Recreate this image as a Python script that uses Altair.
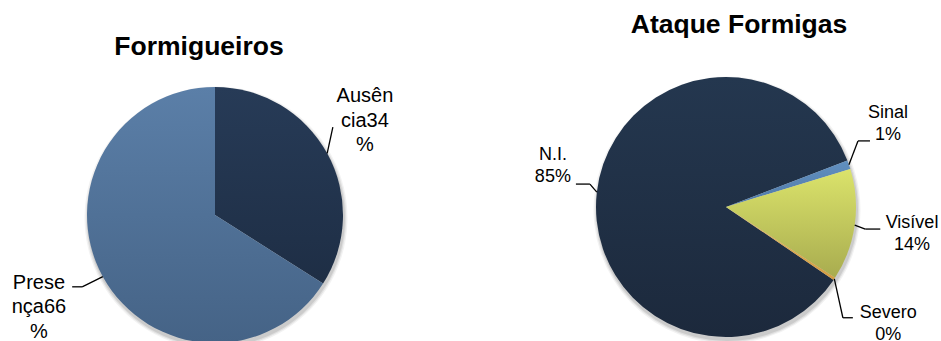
import math
import altair as alt
import pandas as pd

# ---------------- data ----------------
TITLES = ["Formigueiros", "Ataque Formigas"]

F_NAMES = ["Ausência", "Presença"]
F_VALUES = [34, 66]
F_LABELS = ["Ausên\ncia34\n%", "Prese\nnça66\n%"]

A_NAMES = ["N.I.", "Sinal", "Visível", "Severo"]
A_VALUES = [84.7, 1.1, 13.9, 0.3]
A_LABELS = ["N.I.\n85%", "Sinal\n1%", "Visível\n14%", "Severo\n0%"]

# ---------------- layout / style ----------------
FONT = "Liberation Sans"
W, H = 941, 341

LEFT = dict(
    cx=215, cy=215, r=128, rot=0.0, font=20, lh=24.5,
    title_x=199, title_y=55, title_size=26.5,
    colors=[("#273b57", "#1e2e45"), ("#5b7fa8", "#456386")],
    lab_da=[-3.3, 1.2], lab_r=[177, 198.6],
    el_da=[-7.9, 0.4], el_r=[147, 151], hlen=[0, -10],
)
RIGHT = dict(
    cx=726, cy=207, r=130, rot=124.1, font=18, lh=22,
    title_x=739, title_y=33, title_size=26.5,
    colors=[("#24374f", "#1c293c"), ("#6190c0", "#5079a8"),
            ("#dbe36b", "#a8ac4f"), ("#e8b85a", "#d29c42")],
    lab_da=[6.9, -8.1, 0.3, 2.2], lab_r=[178, 182, 188, 200],
    el_da=[3.0, -7.6, 1.0, 9.9], el_r=[138, 147.6, 141, 161], hlen=[-14, 12, 15, 10],
)

SHADOW = [(3.5, 0.05), (2.2, 0.07), (1.0, 0.09)]  # (extra radius, opacity)
SHADOW_DX, SHADOW_DY = 1, 3


def grad(top, bottom):
    return alt.LinearGradient(
        gradient="linear",
        stops=[alt.GradientStop(color=top, offset=0), alt.GradientStop(color=bottom, offset=1)],
        x1=0, x2=0, y1=0, y2=1,
    )


def make_pie(names, values, labels, title, L):
    df = pd.DataFrame({
        "name": names,
        "value": values,
        "order": list(range(len(names))),
        "label": labels,
        "nlines": [s.count("\n") + 1 for s in labels],
        "lab_da": L["lab_da"],
        "lab_r": L["lab_r"],
        "el_da": L["el_da"],
        "el_r": L["el_r"],
        "hlen": L["hlen"],
    })
    total = float(sum(values))
    rot = math.radians(L["rot"])
    cx, cy, r, lh = L["cx"], L["cy"], L["r"], L["lh"]
    theta_scale = alt.Scale(domain=[0, total], range=[rot, rot + 2 * math.pi])

    base = (
        alt.Chart(df)
        .transform_window(end="sum(value)", sort=[alt.SortField("order")])
        .transform_joinaggregate(total="sum(value)")
        .transform_calculate(
            start="datum.end - datum.value",
            mid="datum.end - datum.value / 2",
        )
        .transform_calculate(ang=f"{rot} + 2 * PI * datum.mid / datum.total")
        .transform_calculate(
            lx=f"{cx} + datum.lab_r * sin(datum.ang + datum.lab_da * PI / 180)",
            ly=f"{cy} - datum.lab_r * cos(datum.ang + datum.lab_da * PI / 180)"
               f" - (datum.nlines - 1) * {lh} / 2",
            p0x=f"{cx} + {r} * sin(datum.ang)",
            p0y=f"{cy} - {r} * cos(datum.ang)",
            p1x=f"{cx} + datum.el_r * sin(datum.ang + datum.el_da * PI / 180)",
            p1y=f"{cy} - datum.el_r * cos(datum.ang + datum.el_da * PI / 180)",
        )
        .transform_calculate(p2x="datum.p1x + datum.hlen")
    )

    layers = []
    # soft drop shadow
    for extra, op in SHADOW:
        layers.append(
            base.mark_arc(outerRadius=r + extra, fill="#000000", opacity=op)
            .encode(
                theta=alt.Theta("start:Q", scale=theta_scale, stack=False),
                theta2="end:Q",
                x=alt.value(cx + SHADOW_DX),
                y=alt.value(cy + SHADOW_DY),
            )
        )
    for name, (top, bottom) in zip(names, L["colors"]):
        layers.append(
            base.transform_filter(alt.datum.name == name)
            .mark_arc(outerRadius=r, fill=grad(top, bottom))
            .encode(
                theta=alt.Theta("start:Q", scale=theta_scale, stack=False),
                theta2="end:Q",
                x=alt.value(cx),
                y=alt.value(cy),
            )
        )

    seg1 = base.mark_rule(color="#000000", strokeWidth=1.3).encode(
        x=alt.X("p0x:Q", scale=None, axis=None),
        y=alt.Y("p0y:Q", scale=None, axis=None),
        x2="p1x:Q",
        y2="p1y:Q",
    )
    seg2 = base.mark_rule(color="#000000", strokeWidth=1.3).encode(
        x=alt.X("p1x:Q", scale=None, axis=None),
        y=alt.Y("p1y:Q", scale=None, axis=None),
        x2="p2x:Q",
        y2="p1y:Q",
    )
    text = base.mark_text(
        align="center", baseline="middle", font=FONT, fontSize=L["font"],
        lineHeight=lh, lineBreak="\n", color="#000000",
    ).encode(
        x=alt.X("lx:Q", scale=None, axis=None),
        y=alt.Y("ly:Q", scale=None, axis=None),
        text="label:N",
    )
    ttl = alt.Chart(pd.DataFrame({"t": [title]})).mark_text(
        align="center", baseline="alphabetic", font=FONT, fontSize=L["title_size"],
        fontWeight="bold", color="#000000",
    ).encode(text="t:N", x=alt.value(L["title_x"]), y=alt.value(L["title_y"]))

    return layers + [seg1, seg2, text, ttl]


all_layers = make_pie(F_NAMES, F_VALUES, F_LABELS, TITLES[0], LEFT) + \
    make_pie(A_NAMES, A_VALUES, A_LABELS, TITLES[1], RIGHT)

chart = (
    alt.layer(*all_layers)
    .resolve_scale(theta="independent")
    .properties(width=W, height=H, autosize=alt.AutoSizeParams(type="none"), padding=0,
                background="#ffffff")
    .configure_view(stroke=None)
)

chart.save("out.html", embed_options={"renderer": "svg", "actions": False})
